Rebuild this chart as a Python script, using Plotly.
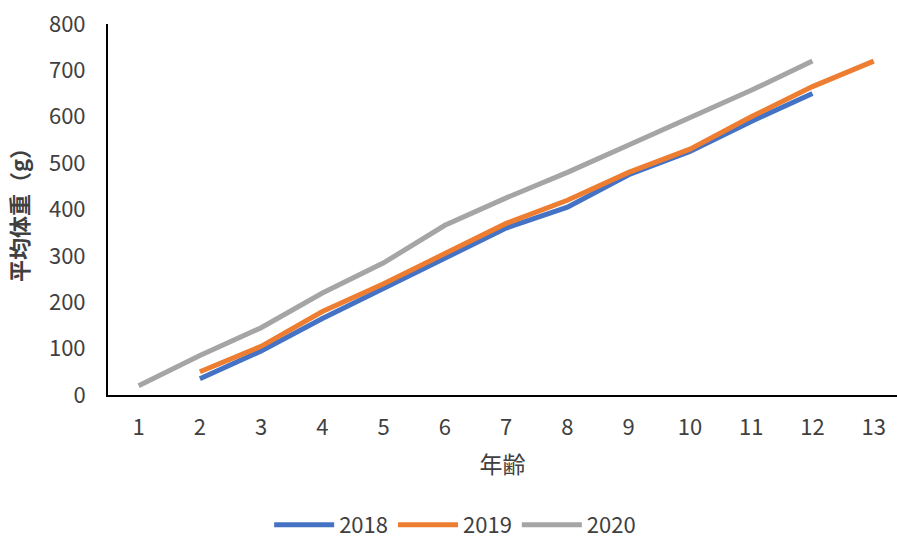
import plotly.graph_objects as go

ages = [1, 2, 3, 4, 5, 6, 7, 8, 9, 10, 11, 12, 13]
tick_labels = [str(a) for a in ages]

w2018 = [None, 35, 95, 165, 230, 295, 360, 405, 475, 525, 590, 650, None]
w2019 = [None, 50, 105, 180, 240, 305, 370, 420, 480, 530, 600, 665, 720]
w2020 = [20, 85, 145, 220, 285, 366, 425, 480, 539, 599, 657, 720, None]

series = [
    ("2018", w2018, "#4472C4"),
    ("2019", w2019, "#ED7D31"),
    ("2020", w2020, "#A5A5A5"),
]

FONT = "Noto Sans CJK JP"
TEXT = "#404040"

fig = go.Figure()
for name, vals, color in series:
    fig.add_trace(go.Scatter(
        x=ages, y=vals, name=name, mode="lines",
        line=dict(color=color, width=5),
        connectgaps=False,
    ))

fig.update_layout(
    width=897, height=544,
    margin=dict(l=108, r=0, t=24, b=149),
    paper_bgcolor="white", plot_bgcolor="white",
    font=dict(family=FONT, size=22, color=TEXT),
    xaxis=dict(
        range=[0.5, 13.38], tickmode="array", tickvals=ages, ticktext=tick_labels,
        showgrid=False, zeroline=False, showline=True, linecolor="black", linewidth=2,
        ticks="", ticklabelstandoff=12, automargin=False,
        title=dict(text="年齢", font=dict(family=FONT, size=23, color=TEXT), standoff=16),
    ),
    yaxis=dict(
        range=[0, 800], dtick=100, showgrid=False, zeroline=False,
        showline=True, linecolor="black", linewidth=2, ticks="", ticklabelstandoff=16,
        automargin=False,
        title=dict(text="<b>平均体重（g）</b>", font=dict(family=FONT, size=22, color=TEXT), standoff=14),
    ),
    legend=dict(
        orientation="h", x=0.44, xanchor="center",
        yref="container", y=0.035, yanchor="middle",
        font=dict(family=FONT, size=22, color=TEXT), itemwidth=60,
    ),
)

fig.write_html("out.html")
